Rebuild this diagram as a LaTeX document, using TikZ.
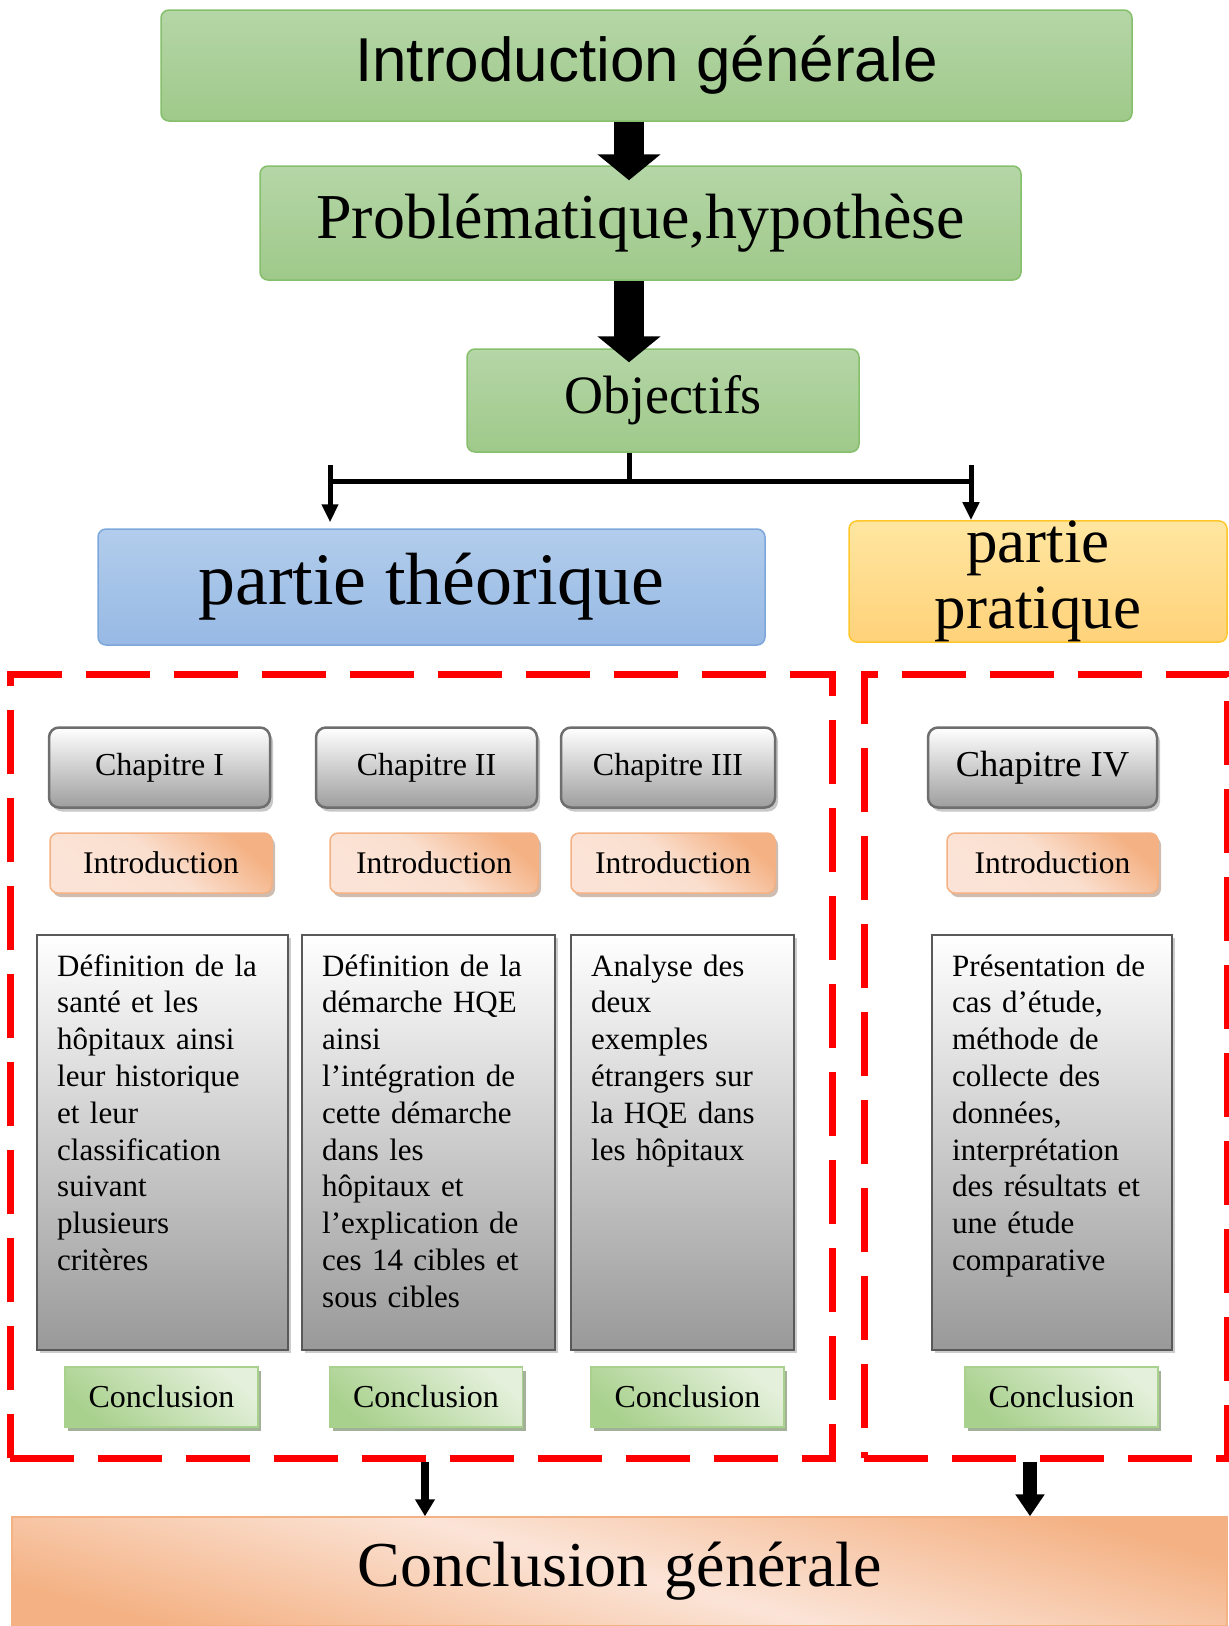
\documentclass[tikz,border=0pt]{standalone}
\usepackage{fontspec}
\setmainfont{Liberation Serif}
\newfontfamily\titlefont{Liberation Sans}
\usetikzlibrary{arrows.meta, shadows, positioning}
\definecolor{grTop}{HTML}{B5D6A7}
\definecolor{grBot}{HTML}{9FC98A}
\definecolor{grBd}{HTML}{86BF6C}
\definecolor{blTop}{HTML}{B2CDEC}
\definecolor{blBot}{HTML}{97B9E4}
\definecolor{blBd}{HTML}{7DA7DB}
\definecolor{yeTop}{HTML}{FFE6A0}
\definecolor{yeBot}{HTML}{FFD27A}
\definecolor{yeBd}{HTML}{FFC72C}
\definecolor{orD}{HTML}{F4B183}
\definecolor{orL}{HTML}{FBE4D7}
\definecolor{cgD}{HTML}{A9D18E}
\definecolor{cgL}{HTML}{E4F0DB}
\definecolor{chBd}{HTML}{6E6E6E}

\begin{document}
\begin{tikzpicture}[
    x=1pt, y=-1pt,
    gbox/.style={rectangle, draw=grBd, line width=1.5pt, rounded corners=8pt,
                 top color=grTop, bottom color=grBot, align=center},
    pbox/.style={rectangle, line width=1.5pt, rounded corners=8pt, align=center},
    chbox/.style={rectangle, draw=chBd, line width=2.5pt, rounded corners=10pt,
                  top color=white, bottom color=black!38, minimum height=80pt,
                  font=\fontsize{32}{38}\selectfont,
                  drop shadow={shadow xshift=3pt, shadow yshift=-4pt, fill=black!22, opacity=1}},
    inbox/.style={rectangle, draw=orD, line width=1.5pt, rounded corners=8pt,
                  top color=orD, bottom color=orL, middle color=orL!90!orD, shading angle=-40,
                  minimum height=60pt, font=\fontsize{31.5}{38}\selectfont,
                  drop shadow={shadow xshift=3pt, shadow yshift=-4pt, fill=orD!60!black!45, opacity=1}},
    tbox/.style={rectangle, draw=black!65, line width=2pt,
                 top color=white, bottom color=black!40, minimum height=415pt,
                 drop shadow={shadow xshift=3pt, shadow yshift=-3pt, fill=black!20, opacity=1}},
    txt/.style={text width=230pt, align=left, inner sep=0pt,
                font=\fontsize{31}{36.8}\selectfont},
    cbox/.style={rectangle, draw=cgD, line width=1.5pt,
                 top color=cgL, bottom color=cgD, shading angle=-40,
                 minimum width=193pt, minimum height=60pt,
                 font=\fontsize{32}{38}\selectfont,
                 drop shadow={shadow xshift=3pt, shadow yshift=-4pt, fill=cgD!60!black!60, opacity=1}},
    frame/.style={rectangle, draw=red, line width=7pt, dash pattern=on 64pt off 24pt,
                  inner sep=0pt},
    ba/.style={line width=30pt, -{Triangle[width=62pt, length=26pt]}},
    br/.style={line width=5pt},
    bra/.style={line width=5pt, -{Triangle[width=16pt, length=18pt]}},
    sa/.style={line width=8pt, -{Triangle[width=19pt, length=17pt]}},
    sb/.style={line width=14pt, -{Triangle[width=28pt, length=22pt]}}
]
\useasboundingbox (0,0) rectangle (1229,1626);

\node[gbox, minimum width=971pt, minimum height=111pt,
      font=\titlefont\fontsize{62}{70}\selectfont] (intro) at (646.5,65.5)
    {Introduction générale};
\node[gbox, minimum width=761pt, minimum height=114pt,
      font=\fontsize{64}{70}\selectfont] (prob) at (640.5,223)
    {Problématique,hypothèse};
\node[gbox, minimum width=392pt, minimum height=103pt,
      font=\fontsize{54}{60}\selectfont] (obj) at (663,400.5)
    {Objectifs};

\node[pbox, draw=blBd, top color=blTop, bottom color=blBot,
      minimum width=667pt, minimum height=116pt,
      font=\fontsize{74}{80}\selectfont] (theo) at (431.5,587)
    {partie théorique};
\node[pbox, draw=yeBd, top color=yeTop, bottom color=yeBot,
      minimum width=378pt, minimum height=119pt, inner sep=0pt,
      font=\fontsize{63}{66}\selectfont] (prat) at (1038,581.5)
    {partie\\pratique};

\node[frame, minimum width=822pt, minimum height=784pt] (frameL) at (421,1066) {};
\node[frame, minimum width=363pt, minimum height=784pt] (frameR) at (1045.5,1066) {};

\node[chbox, minimum width=221pt] (ch1) at (159.5,767.5) {Chapitre I};
\node[chbox, minimum width=221pt] (ch2) at (426.5,767.5) {Chapitre II};
\node[chbox, minimum width=214pt] (ch3) at (668,767.5) {Chapitre III};
\node[chbox, minimum width=229pt, font=\fontsize{36.5}{40}\selectfont] (ch4) at (1042.5,767.5) {Chapitre IV};

\node[inbox, minimum width=222pt] (in1) at (161,863) {Introduction};
\node[inbox, minimum width=208pt] (in2) at (434,863) {Introduction};
\node[inbox, minimum width=204pt] (in3) at (673,863) {Introduction};
\node[inbox, minimum width=211pt] (in4) at (1052.5,863) {Introduction};

\node[tbox, minimum width=251pt] (tb1) at (162.5,1142.5) {};
\node[tbox, minimum width=253pt] (tb2) at (428.5,1142.5) {};
\node[tbox, minimum width=223pt] (tb3) at (682.5,1142.5) {};
\node[tbox, minimum width=240pt] (tb4) at (1052,1142.5) {};

\node[txt, anchor=base west] (tx1) at ([xshift=21pt, yshift=-42pt]tb1.north west)
    {Définition de la\\santé et les\\hôpitaux ainsi\\leur historique\\et leur\\classification\\suivant\\plusieurs\\critères};
\node[txt, anchor=base west] (tx2) at ([xshift=21pt, yshift=-42pt]tb2.north west)
    {Définition de la\\démarche HQE\\ainsi\\l’intégration de\\cette démarche\\dans les\\hôpitaux et\\l’explication de\\ces 14 cibles et\\sous cibles};
\node[txt, anchor=base west] (tx3) at ([xshift=21pt, yshift=-42pt]tb3.north west)
    {Analyse des\\deux\\exemples\\étrangers sur\\la HQE dans\\les hôpitaux};
\node[txt, anchor=base west] (tx4) at ([xshift=21pt, yshift=-42pt]tb4.north west)
    {Présentation de\\cas d’étude,\\méthode de\\collecte des\\données,\\interprétation\\des résultats et\\une étude\\comparative};

\node[cbox] (co1) at (161.5,1397) {Conclusion};
\node[cbox] (co2) at (426,1397) {Conclusion};
\node[cbox] (co3) at (687.5,1397) {Conclusion};
\node[cbox] (co4) at (1061.5,1397) {Conclusion};

\node[rectangle, draw=orD, line width=1.5pt,
      top color=orD, bottom color=orD, middle color=orL, shading angle=-15,
      minimum width=1215pt, minimum height=109pt,
      font=\fontsize{64}{70}\selectfont] (cg) at (619.5,1571.5)
    {Conclusion générale};

\coordinate (spine) at (629,0);
\coordinate (bar) at (0,481);
\coordinate (barl) at (330,465);
\coordinate (barr) at (971,465);
\coordinate (dl) at (425,0);
\coordinate (dr) at (1030,0);

\draw[ba, shorten >=-15pt] (intro.south -| spine) -- (prob.north -| spine);
\draw[ba, shorten >=-14pt] (prob.south -| spine) -- (obj.north -| spine);
\draw[br] (obj.south -| spine) -- (bar -| spine);
\draw[br] (bar -| barl) -- (bar -| barr);
\draw[bra, shorten >=6pt] (barl) -- (theo.north -| barl);
\draw[bra] (barr) -- (prat.north -| barr);
\draw[sa] (frameL.south -| dl) -- (cg.north -| dl);
\draw[sb] (frameR.south -| dr) -- (cg.north -| dr);
\end{tikzpicture}
\end{document}
